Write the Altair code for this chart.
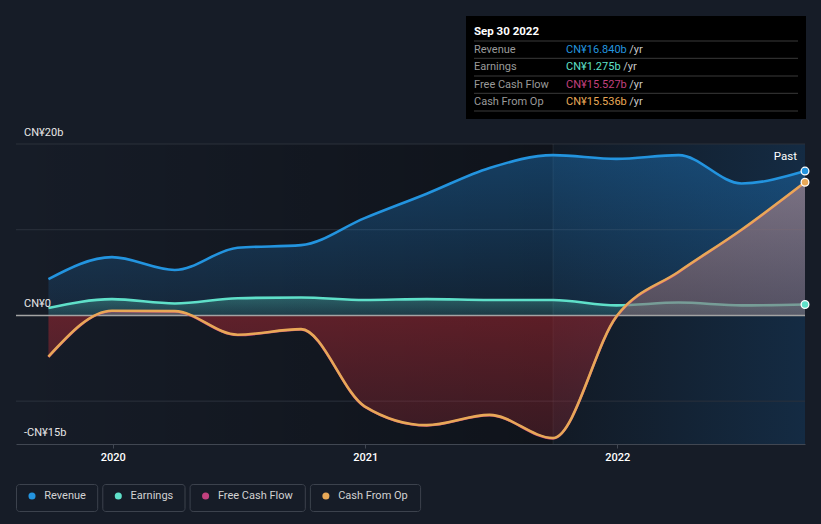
import altair as alt
import pandas as pd

# ---------------- data ----------------
dates = ["2019-09-30", "2019-12-31", "2020-03-31", "2020-06-30", "2020-09-30",
         "2020-12-31", "2021-03-31", "2021-06-30", "2021-09-30", "2021-12-31",
         "2022-03-31", "2022-06-30", "2022-09-30"]
revenue = [4.24, 6.8, 5.3, 7.9, 8.2, 11.35, 14.2, 17.2, 18.7, 18.26, 18.7, 15.4, 16.84]
earnings = [0.86, 1.9, 1.4, 2.0, 2.1, 1.8, 1.9, 1.8, 1.8, 1.17, 1.5, 1.17, 1.275]
free_cash_flow = [-4.85, 0.5, 0.45, -2.3, -1.65, -10.65, -12.85, -11.65, -14.35, -0.15, 5.05, 9.95, 15.527]
cash_from_op = [-4.8, 0.55, 0.5, -2.25, -1.6, -10.6, -12.8, -11.6, -14.3, -0.1, 5.1, 10.0, 15.536]

series_names = ["Revenue", "Earnings", "Free Cash Flow", "Cash From Op"]
series_colors = ["#2394df", "#5fe0c9", "#c2417f", "#e8a857"]
year_ticks = [2020, 2021, 2022]
ytick_values = [20, 0, -15]
ytick_labels = ["CN¥20b", "CN¥0", "-CN¥15b"]
grid_values = [20, 10, -10]
as_of_label = "Sep 30 2022"
past_label = "Past"
past_start = "2021-09-30"

# ---------------- layout / style ----------------
W, H = 789, 300
FONT = "Roboto"
BG = "#161c27"

df = pd.DataFrame({"date": dates, "revenue": revenue, "earnings": earnings,
                   "fcf": free_cash_flow, "cfo": cash_from_op})

x_scale = alt.Scale(type="utc", domain=[alt.DateTime(year=2019, month=8, date=14, utc=True),
                                        alt.DateTime(year=2022, month=9, date=30, utc=True)])
y_scale = alt.Scale(domain=[-15, 20], nice=False, zero=False)
X_AXIS = alt.Axis(values=[alt.DateTime(year=y, month=1, date=1, utc=True) for y in year_ticks],
                  format="%Y", formatType="time", labelColor="#ffffff", labelFontSize=11,
                  labelFontWeight=500, labelFont=FONT, labelPadding=3, tickColor="#414752",
                  tickSize=4, domainColor="#414752", domainWidth=1, grid=False, title=None)


def X(field):
    return alt.X(field, type="temporal", scale=x_scale, axis=X_AXIS, title=None)


def Y(field):
    return alt.Y(field, type="quantitative", scale=y_scale, axis=None)


def grad_v(stops):
    return alt.Gradient(gradient="linear", x1=0, x2=0, y1=0, y2=1,
                        stops=[alt.GradientStop(offset=o, color=c) for o, c in stops])


def grad_h(stops):
    return alt.Gradient(gradient="linear", x1=0, x2=1, y1=0, y2=0,
                        stops=[alt.GradientStop(offset=o, color=c) for o, c in stops])


layers = []

# background regions
regions = pd.DataFrame({"start": ["2019-08-14", past_start], "end": [past_start, dates[-1]]})
layers.append(alt.Chart(regions.iloc[[0]]).mark_rect(
    fill=grad_h([(0, "rgba(0,0,0,0)"), (1, "rgba(0,0,0,0.32)")]), opacity=1
).encode(x=X("start"), x2="end", y=alt.Y(datum=20, scale=y_scale, axis=None), y2=alt.datum(-15)))
layers.append(alt.Chart(regions.iloc[[1]]).mark_rect(
    fill=grad_h([(0, "#121a25"), (1, "#142b43")]), opacity=1
).encode(x=X("start"), x2="end", y=alt.Y(datum=20, scale=y_scale, axis=None), y2=alt.datum(-15)))

# grid lines
layers.append(alt.Chart(pd.DataFrame({"v": grid_values})).mark_rule(color="#2b313b", strokeWidth=1)
              .encode(y=Y("v")))
# past divider
layers.append(alt.Chart(pd.DataFrame({"d": [past_start]})).mark_rule(color="rgba(255,255,255,0.07)", strokeWidth=1)
              .encode(x=X("d")))

base = alt.Chart(df)
# revenue area + earnings area
layers.append(base.mark_area(interpolate="monotone", opacity=1,
                             fill=grad_v([(0, "rgba(33,150,243,0.32)"), (1, "rgba(33,150,243,0.10)")]))
              .encode(x=X("date"), y=Y("revenue"), y2=alt.datum(0)))
layers.append(base.mark_area(interpolate="monotone", opacity=1,
                             fill=grad_v([(0, "rgba(95,224,201,0.30)"), (1, "rgba(95,224,201,0.12)")]))
              .encode(x=X("date"), y=Y("earnings"), y2=alt.datum(0)))
layers.append(base.mark_line(interpolate="monotone", color=series_colors[0], strokeWidth=2.6)
              .encode(x=X("date"), y=Y("revenue")))
layers.append(base.mark_line(interpolate="monotone", color=series_colors[1], strokeWidth=2.6)
              .encode(x=X("date"), y=Y("earnings")))

# cash flow area: mauve above zero, red below zero
cmax, cmin = max(cash_from_op), min(cash_from_op)
z = cmax / (cmax - cmin)
layers.append(base.mark_area(interpolate="monotone", opacity=1,
                             fill=grad_v([(0, "rgba(188,140,140,0.60)"), (z, "rgba(132,102,110,0.56)"),
                                          (z, "rgba(170,40,50,0.50)"), (1, "rgba(150,40,50,0.30)")]))
              .encode(x=X("date"), y=Y("cfo"), y2=alt.datum(0)))

# zero line
layers.append(alt.Chart(pd.DataFrame({"v": [0]})).mark_rule(color="#a3a3a3", strokeWidth=1.5)
              .encode(y=Y("v")))

layers.append(base.mark_line(interpolate="monotone", color=series_colors[2], strokeWidth=2.4)
              .encode(x=X("date"), y=Y("fcf")))
layers.append(base.mark_line(interpolate="monotone", color=series_colors[3], strokeWidth=2.6)
              .encode(x=X("date"), y=Y("cfo")))

# end dots
last = pd.DataFrame({"date": [dates[-1]] * 3,
                     "value": [revenue[-1], earnings[-1], cash_from_op[-1]],
                     "name": ["Revenue", "Earnings", "Cash From Op"]})
layers.append(alt.Chart(last).mark_point(filled=True, size=60, opacity=1, stroke="#ffffff", strokeWidth=1.3)
              .encode(x=X("date"), y=Y("value"),
                      fill=alt.Fill("name:N", scale=alt.Scale(domain=series_names, range=series_colors), legend=None)))

# y labels
layers.append(alt.Chart(pd.DataFrame({"v": ytick_values, "t": ytick_labels}))
              .mark_text(align="left", baseline="middle", dy=-11.5, fontSize=11, color="#e6e6e6", font=FONT)
              .encode(y=Y("v"), x=alt.value(8), text="t:N"))

# "Past" label
layers.append(alt.Chart(alt.Data(values=[{"t": past_label}]))
              .mark_text(align="right", baseline="middle", fontSize=11.5, color="#ffffff", font=FONT)
              .encode(x=alt.value(781), y=alt.value(12.5), text="t:N"))

# tooltip panel
ONE = alt.Data(values=[{}])
layers.append(alt.Chart(ONE).mark_rect(fill="#000000")
              .encode(x=alt.value(450), x2=alt.value(790), y=alt.value(-128), y2=alt.value(-25)))
layers.append(alt.Chart(alt.Data(values=[{"t": as_of_label}]))
              .mark_text(align="left", baseline="middle", fontSize=11.5, fontWeight="bold", color="#ffffff", font=FONT)
              .encode(x=alt.value(458), y=alt.value(-112.3), text="t:N"))
sep_y = [-103, -85.7, -68, -50.7, -33]
for sy in sep_y:
    layers.append(alt.Chart(ONE).mark_rule(color="#3a3a3a", strokeWidth=1)
                  .encode(x=alt.value(458), x2=alt.value(782), y=alt.value(sy)))
latest = [revenue[-1], earnings[-1], free_cash_flow[-1], cash_from_op[-1]]
for i, (nm, val, col) in enumerate(zip(series_names, latest, series_colors)):
    ry = -94.0 + i * 17.3
    vt = f"CN¥{val:.3f}b"
    layers.append(alt.Chart(alt.Data(values=[{"t": nm}]))
                  .mark_text(align="left", baseline="middle", fontSize=11, color="#9a9a9a", font=FONT)
                  .encode(x=alt.value(458), y=alt.value(ry), text="t:N"))
    layers.append(alt.Chart(alt.Data(values=[{"t": vt}]))
                  .mark_text(align="left", baseline="middle", fontSize=11, color=col, font=FONT)
                  .encode(x=alt.value(550), y=alt.value(ry), text="t:N"))
    layers.append(alt.Chart(alt.Data(values=[{"t": "/yr"}]))
                  .mark_text(align="left", baseline="middle", fontSize=11, color="#c8c8c8", font=FONT)
                  .encode(x=alt.value(550 + len(vt) * 5.97 + 3.5), y=alt.value(ry), text="t:N"))

# legend (boxes)
text_w = [41.3, 42.3, 75.3, 70.3]
bx = 0.0
for nm, col, tw in zip(series_names, series_colors, text_w):
    bw = 40.4 + tw
    layers.append(alt.Chart(ONE).mark_rect(fill="rgba(0,0,0,0)", stroke="#3c424d", strokeWidth=1, cornerRadius=3)
                  .encode(x=alt.value(bx + 0.5), x2=alt.value(bx + bw), y=alt.value(340.5), y2=alt.value(367.5)))
    layers.append(alt.Chart(ONE).mark_point(filled=True, size=50, opacity=1, color=col)
                  .encode(x=alt.value(bx + 16), y=alt.value(352)))
    layers.append(alt.Chart(alt.Data(values=[{"t": nm}]))
                  .mark_text(align="left", baseline="middle", fontSize=11, color="#d2d2d2", font=FONT)
                  .encode(x=alt.value(bx + 28.3), y=alt.value(352), text="t:N"))
    bx += bw + 4.6

chart = alt.layer(*layers).properties(
    width=W, height=H,
    autosize=alt.AutoSizeParams(type="none"),
    padding={"left": 16, "top": 144, "right": 16, "bottom": 80},
).configure(background=BG, font=FONT).configure_view(stroke=None)

chart.save("out.html", embed_options={"renderer": "svg", "actions": False})
